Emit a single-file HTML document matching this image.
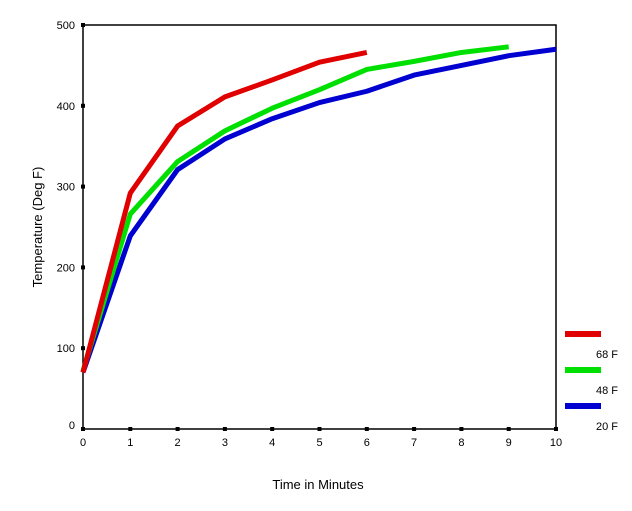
<!DOCTYPE html>
<html><head><meta charset="utf-8"><style>
body{margin:0;background:#fff;}
svg text{font-family:"Liberation Sans",sans-serif;font-size:11px;fill:#000;}
</style></head><body>
<svg width="632" height="506" id="c">
<rect x="83" y="25" width="473" height="404" fill="none" stroke="#000" stroke-width="1.5"/>
<text x="318" y="489" text-anchor="middle" font-size="13" style="font-size:13px">Time in Minutes</text>
<text transform="translate(42,227) rotate(-90)" text-anchor="middle" style="font-size:13px">Temperature (Deg F)</text>
<g id="ax"></g><g id="series"></g><g id="legend"></g>
</svg>
<script>
const xTicks=[0,1,2,3,4,5,6,7,8,9,10];
const yTicks=[0,100,200,300,400,500];
const seriesNames=["68 F","48 F","20 F"];
const seriesColors=["#e00000","#00e000","#0000d0"];
const red=[70,292,375,411,432,454,466];
const green=[72,266,331,369,397,420,445,455,466,473];
const blue=[70,239,321,359,384,404,418,438,450,462,470];
const allSeries=[red,green,blue];
const X=v=>83+v*47.3, Y=v=>429-v*0.808;
const ns="http://www.w3.org/2000/svg";
const ax=document.getElementById('ax');
function mk(t,a,p){const e=document.createElementNS(ns,t);for(const k in a)e.setAttribute(k,a[k]);p.appendChild(e);return e;}
xTicks.forEach(t=>{
 const r=mk('rect',{x:X(t)-2,y:427,width:4,height:4,fill:'#000'},ax);
 
 
 const l=mk('text',{x:X(t),y:446,'text-anchor':'middle'},ax);l.textContent=t;
 
 
});
yTicks.forEach(t=>{
 const r=mk('rect',{x:81,y:Y(t)-2,width:4,height:4,fill:'#000'},ax);
 
 
 const l=mk('text',{x:75,y:Y(t)+(t===0?0:4),'text-anchor':'end'},ax);l.textContent=t;
 
 
});
const sg=document.getElementById('series');
[2,1,0].forEach(i=>{
 const d=allSeries[i].map((v,j)=>(j?'L':'M')+X(j)+' '+Y(v)).join(' ');
 const p=mk('path',{d:d,fill:'none',stroke:seriesColors[i],'stroke-width':5,'stroke-linejoin':'round'},sg);
 
 
});
const lg=document.getElementById('legend');
seriesNames.forEach((n,i)=>{
 const y=334+i*36;
 const r=mk('rect',{x:565,y:y-3,width:36,height:6,fill:seriesColors[i]},lg);
 
 
 const t=mk('text',{x:596,y:y+24},lg);t.textContent=n;
 
 
});
</script>
</body></html>
